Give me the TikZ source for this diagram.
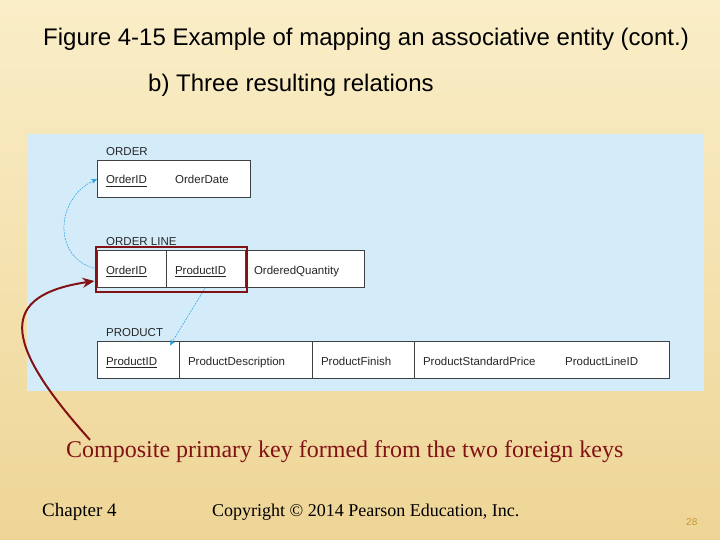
\documentclass[tikz,border=0pt]{standalone}
\usepackage{fontspec}
\setmainfont{Liberation Sans}
\newfontfamily\timesfont{Liberation Serif}
\usepackage{xcolor}
\usepackage{tikz}
\usetikzlibrary{positioning,fit,arrows.meta}
\definecolor{slidetop}{RGB}{250,238,200}
\definecolor{slidebottom}{RGB}{238,213,150}
\definecolor{panelblue}{RGB}{212,236,250}
\definecolor{fkblue}{RGB}{38,160,220}
\definecolor{keyred}{RGB}{130,18,22}
\definecolor{pagenum}{RGB}{200,150,60}
\newcommand{\pkey}[1]{\setbox0\hbox{#1}\rlap{\rule[-2.8pt]{\wd0}{0.7pt}}#1}

\begin{document}
\begin{tikzpicture}[x=1pt, y=-1pt, every node/.style={inner sep=0pt},
    cell/.style={draw=black!75, fill=white, line width=0.6pt, outer sep=0pt, anchor=west,
        minimum height=37pt, inner xsep=9pt, text width=#1, align=left,
        text height=10pt, text depth=0pt, text=black!85, font=\fontsize{11.5}{13}\selectfont},
    attr/.style={anchor=west, text height=10pt, text depth=0pt, text=black!85, font=\fontsize{11.5}{13}\selectfont},
    relname/.style={anchor=south west, text=black!85, font=\fontsize{11.5}{13}\selectfont},
    fk/.style={-{Stealth[length=6pt,width=5pt]}, fkblue, line width=0.5pt, dash pattern=on 2pt off 1pt},
    keybox/.style={draw=keyred, line width=2pt, inner xsep=1.5pt, inner ysep=4pt},
    keyarrow/.style={-{Stealth[length=12pt,width=10pt]}, keyred, line width=2pt}]
    \useasboundingbox (0,0) rectangle (720,540);

    % Slide
    \shade[top color=slidetop, bottom color=slidebottom] (0,0) rectangle (720,540);
    \node[anchor=base west, font=\fontsize{24}{28}\selectfont] (fig) at (43,45.5) {Figure 4-15 Example of mapping an associative entity (cont.)};
    \node[anchor=base west, font=\fontsize{24}{28}\selectfont] (sub) at (148,91.5) {b) Three resulting relations};
    \fill[panelblue] (27,134) rectangle (704,391);

    % ORDER
    \node[relname] (ordName) at (106,155.5) {ORDER};
    \node[cell=135pt] (ordKey) at (97,179) {\pkey{OrderID}};
    \node[attr] (ordDate) at (175,179) {OrderDate};

    % ORDER LINE
    \node[relname] (olName) at (106,246) {ORDER LINE};
    \node[cell=51pt] (olOrder) at (97,269) {\pkey{OrderID}};
    \node[cell=61pt, right=0pt of olOrder] (olProduct) {\pkey{ProductID}};
    \node[cell=101pt, right=0pt of olProduct] (olQty) {OrderedQuantity};

    % PRODUCT
    \node[relname] (prName) at (106,337) {PRODUCT};
    \node[cell=64pt] (prId) at (97,360) {\pkey{ProductID}};
    \node[cell=115pt, right=0pt of prId] (prDesc) {ProductDescription};
    \node[cell=84pt, right=0pt of prDesc] (prFinish) {ProductFinish};
    \node[cell=237pt, right=0pt of prFinish] (prPrice) {ProductStandardPrice};
    \node[attr] (prLine) at (565,360) {ProductLineID};

    % Foreign keys
    \draw[fk] (olOrder.west) .. controls +(-45,-10) and +(-42,20) .. (ordKey.west);
    \draw[fk] (olProduct.south) -- ([xshift=-9pt,yshift=-4pt]prId.north east);

    % Composite key
    \node[keybox, fit=(olOrder)(olProduct)] (pk) {};
    \node[anchor=base west, text=keyred, font=\timesfont\fontsize{24}{28}\selectfont] (capt) at (66,457) {Composite primary key formed from the two foreign keys};
    \draw[keyarrow] ([xshift=24pt]capt.north west) .. controls (0,340) and (0,295) .. ([yshift=-12pt]pk.west);

    % Footer
    \node[anchor=base west, font=\timesfont\fontsize{19}{22}\selectfont] (chap) at (42,516) {Chapter 4};
    \node[anchor=base west, font=\timesfont\fontsize{18}{21}\selectfont] (copy) at (212,516) {Copyright © 2014 Pearson Education, Inc.};
    \node[anchor=base west, text=pagenum, font=\fontsize{10}{12}\selectfont] (page) at (686,525) {28};
\end{tikzpicture}
\end{document}
